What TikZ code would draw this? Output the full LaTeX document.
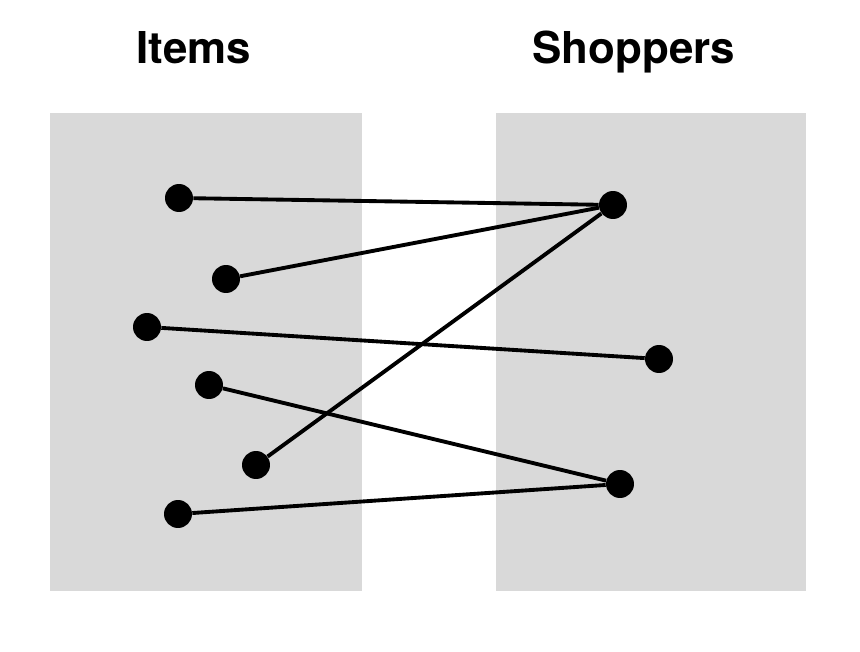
\documentclass[tikz,border=0pt]{standalone}
\usepackage{fontspec}
\setmainfont{TeX Gyre Heros}
\usepackage{tikz}

\begin{document}
\begin{tikzpicture}[x=0.02cm, y=-0.02cm,
		dot/.style={circle, fill=black, inner sep=0pt, minimum size=0.56cm},
		title/.style={font=\bfseries\fontsize{25}{30}\selectfont, anchor=base},
		link/.style={line width=2.2pt}]
	\useasboundingbox (0,0) rectangle (860,652);
	\definecolor{panel}{RGB}{217,217,217}
	
	\fill[panel] (50,113) rectangle (362,591);
	\fill[panel] (496,113) rectangle (806,591);
	
	\node[title] (items) at (194,64) {Items};
	\node[title] (shoppers) at (634,64) {Shoppers};
	
	\foreach \x/\y/\name in {
		179/198/i1,
		226/279/i2,
		147/327/i3,
		209/385/i4,
		256/465/i5,
		178/514/i6,
		613/205/s1,
		659/359/s2,
		620/484/s3}{
		\node[dot] (\name) at (\x,\y) {};
	}
	
	\draw[link] (i1) -- (s1);
	\draw[link] (i2) -- (s1);
	\draw[link] (i5) -- (s1);
	\draw[link] (i3) -- (s2);
	\draw[link] (i4) -- (s3);
	\draw[link] (i6) -- (s3);
\end{tikzpicture}
\end{document}
